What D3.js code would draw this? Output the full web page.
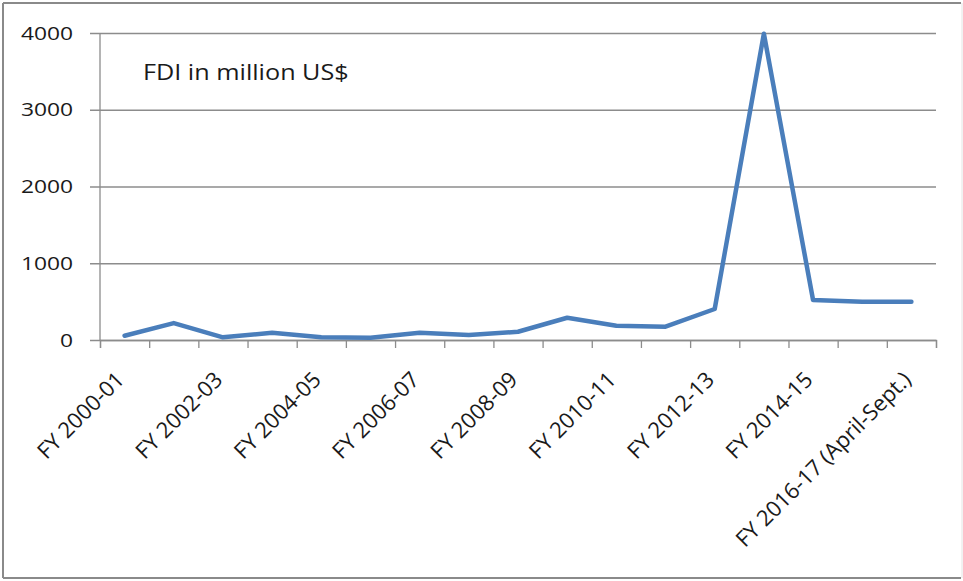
<!DOCTYPE html>
<html>
<head>
<meta charset="utf-8">
<script src="https://cdnjs.cloudflare.com/ajax/libs/d3/7.8.5/d3.min.js"></script>
<style>
  body { margin: 0; background: #fff; }
  svg { display: block; }
  svg text { font-family: "Open Sans", sans-serif; }
</style>
</head>
<body>
<svg id="chart"></svg>
<script>
const years = [
    "FY 2000-01", "FY 2001-02", "FY 2002-03", "FY 2003-04", "FY 2004-05",
    "FY 2005-06", "FY 2006-07", "FY 2007-08", "FY 2008-09", "FY 2009-10",
    "FY 2010-11", "FY 2011-12", "FY 2012-13", "FY 2013-14", "FY 2014-15",
    "FY 2015-16", "FY 2016-17 (April-Sept.)"
];
const fdi = [55, 220, 35, 95, 35, 30, 95, 65, 108, 290, 186, 173, 404, 3990, 521, 499, 499];
const yTicks = [0, 1000, 2000, 3000, 4000];
const labelYears = years.filter((d, i) => i % 2 === 0);
const title = "FDI in million US$";

const W = 963, H = 581;
const margin = { top: 33, right: 27, bottom: 241, left: 100 };
const width = W - margin.left - margin.right;
const height = H - margin.top - margin.bottom;
const stretch = 1.2; // source image text looks widened horizontally

const svg = d3.select("#chart").attr("width", W).attr("height", H);

// outer frame
svg.append("line").attr("x1", 3).attr("y1", 3).attr("x2", 961).attr("y2", 3)
    .attr("stroke", "#8a8a8a").attr("stroke-width", 2);
svg.append("line").attr("x1", 3).attr("y1", 3).attr("x2", 3).attr("y2", 578)
    .attr("stroke", "#8a8a8a").attr("stroke-width", 2);
svg.append("line").attr("x1", 3).attr("y1", 578).attr("x2", 961).attr("y2", 578)
    .attr("stroke", "#8a8a8a").attr("stroke-width", 2);
svg.append("line").attr("x1", 962).attr("y1", 3).attr("x2", 962).attr("y2", 578)
    .attr("stroke", "#e4e4e4").attr("stroke-width", 1);

const g = svg.append("g").attr("transform", `translate(${margin.left},${margin.top})`);

const x = d3.scaleBand().domain(years).range([0, width]);
const xEdge = d3.scaleLinear().domain([0, years.length]).range([0, width]);
const y = d3.scaleLinear().domain([0, 4000]).range([height, 0]);

// gridlines + y axis
const yAxis = g.append("g")
    .call(d3.axisLeft(y).tickValues(yTicks).tickFormat(d3.format("d")).tickSize(10));
yAxis.select(".domain").remove();
yAxis.selectAll(".tick line")
    .attr("x1", -10).attr("x2", width)
    .attr("stroke", "#8c8c8c").attr("stroke-width", 1.3);
yAxis.selectAll(".tick text")
    .attr("x", 0)
    .attr("transform", `translate(-27,0) scale(${stretch},1)`)
    .style("font-size", "19px").attr("fill", "#1a1a1a");

g.append("line").attr("x1", 0).attr("x2", 0).attr("y1", 0).attr("y2", height)
    .attr("stroke", "#8c8c8c").attr("stroke-width", 1.3);

// x axis: tick marks between categories
const xTicks = g.append("g").attr("transform", `translate(0,${height})`)
    .call(d3.axisBottom(xEdge).tickValues(d3.range(years.length + 1)).tickSize(8).tickFormat(""));
xTicks.select(".domain").attr("stroke", "#8c8c8c").attr("stroke-width", 1.3);
xTicks.selectAll(".tick line").attr("stroke", "#8c8c8c").attr("stroke-width", 1.3);

// x labels at every other category
const xLabels = g.append("g").attr("transform", `translate(0,${height})`)
    .call(d3.axisBottom(x).tickValues(labelYears).tickSize(0));
xLabels.select(".domain").remove();
xLabels.selectAll(".tick text")
    .attr("text-anchor", "end")
    .attr("x", 0).attr("y", 0).attr("dy", 0)
    .attr("transform", "translate(1,41) rotate(-45)")
    .style("font-size", "22px").attr("fill", "#1a1a1a");

// line
const line = d3.line()
    .x((d, i) => x(years[i]) + x.bandwidth() / 2)
    .y(d => y(d));
g.append("path")
    .datum(fdi)
    .attr("d", line)
    .attr("fill", "none")
    .attr("stroke", "#4a7ebb")
    .attr("stroke-width", 4.5)
    .attr("stroke-linejoin", "round")
    .attr("stroke-linecap", "round");

// title
svg.append("text")
    .attr("transform", `translate(143,80) scale(${stretch},1)`)
    .style("font-size", "21px").attr("fill", "#1a1a1a")
    .text(title);
</script>
</body>
</html>
